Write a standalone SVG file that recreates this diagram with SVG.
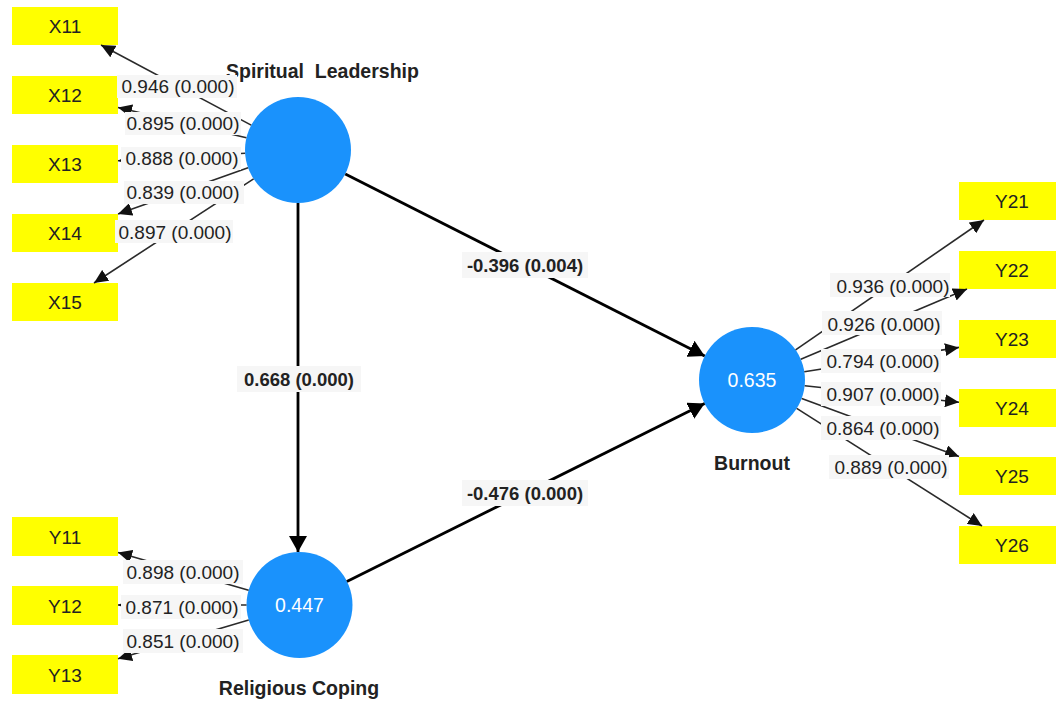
<svg xmlns="http://www.w3.org/2000/svg" width="1056" height="702" viewBox="0 0 1056 702">
<style>
text{font-family:"Liberation Sans",Arial,sans-serif;font-size:19px;fill:#222;text-anchor:middle}
.box{fill:#ffff00}
.lv{fill:#1a92fc}
.lvv{fill:#fff;font-size:19.5px}
.name{font-weight:bold;font-size:19.5px}
.ol{stroke:#2a2a2a;stroke-width:1.6;fill:none;marker-end:url(#ah)}
.sl{stroke:#000;stroke-width:2.8;fill:none;marker-end:url(#ahb)}
.lb{fill:#f6f6f6}
.pl{font-weight:bold;font-size:18.5px}
</style>
<defs>
<marker id="ah" markerUnits="userSpaceOnUse" markerWidth="15" markerHeight="13" refX="14" refY="6.5" orient="auto"><path d="M0,0 L14,6.5 L0,13 z" fill="#111"/></marker>
<marker id="ahb" markerUnits="userSpaceOnUse" markerWidth="17" markerHeight="18" refX="16" refY="9" orient="auto"><path d="M0,0 L16,9 L0,18 z" fill="#000"/></marker>
</defs>
<rect width="1056" height="702" fill="#fff"/>
<g id="X11"><rect class="box" x="12" y="7" width="106" height="38"/><text x="65" y="33">X11</text></g>
<g id="X12"><rect class="box" x="12" y="76" width="106" height="38"/><text x="65" y="102">X12</text></g>
<g id="X13"><rect class="box" x="12" y="145" width="106" height="38"/><text x="65" y="171">X13</text></g>
<g id="X14"><rect class="box" x="12" y="214" width="106" height="38"/><text x="65" y="240">X14</text></g>
<g id="X15"><rect class="box" x="12" y="283" width="106" height="38"/><text x="65" y="309">X15</text></g>
<g id="Y11"><rect class="box" x="12" y="517" width="106" height="39"/><text x="65" y="543.5">Y11</text></g>
<g id="Y12"><rect class="box" x="12" y="586" width="106" height="39"/><text x="65" y="612.5">Y12</text></g>
<g id="Y13"><rect class="box" x="12" y="655" width="106" height="39"/><text x="65" y="681.5">Y13</text></g>
<g id="Y21"><rect class="box" x="959" y="182" width="106" height="38"/><text x="1012" y="208">Y21</text></g>
<g id="Y22"><rect class="box" x="959" y="251" width="106" height="38"/><text x="1012" y="277">Y22</text></g>
<g id="Y23"><rect class="box" x="959" y="320" width="106" height="38"/><text x="1012" y="346">Y23</text></g>
<g id="Y24"><rect class="box" x="959" y="389" width="106" height="38"/><text x="1012" y="415">Y24</text></g>
<g id="Y25"><rect class="box" x="959" y="457" width="106" height="38"/><text x="1012" y="483">Y25</text></g>
<g id="Y26"><rect class="box" x="959" y="526" width="106" height="38"/><text x="1012" y="552">Y26</text></g>
<g id="SpiritualLeadership"><circle class="lv" cx="298" cy="150" r="53"/><text class="name" x="226" y="78" style="text-anchor:start;white-space:pre" xml:space="preserve">Spiritual  Leadership</text></g>
<g id="ReligiousCoping"><circle class="lv" cx="299.5" cy="605" r="53"/><text class="lvv" x="299.5" y="612">0.447</text><text class="name" x="299" y="695">Religious Coping</text></g>
<g id="Burnout"><circle class="lv" cx="752" cy="380" r="53"/><text class="lvv" x="752" y="387">0.635</text><text class="name" x="752" y="470">Burnout</text></g>
<g id="connectors">
<line class="ol" x1="251.2" y1="125.1" x2="101" y2="45"/>
<line class="ol" x1="246.4" y1="137.8" x2="118" y2="107.5"/>
<line class="ol" x1="245.1" y1="153.2" x2="118" y2="160.8"/>
<line class="ol" x1="248.1" y1="167.8" x2="118" y2="214"/>
<line class="ol" x1="253.6" y1="178.9" x2="94" y2="283"/>
<line class="ol" x1="248.6" y1="590.3" x2="118" y2="552.4"/>
<line class="ol" x1="246.5" y1="605" x2="118" y2="605"/>
<line class="ol" x1="248.7" y1="620.1" x2="118" y2="658.8"/>
<line class="ol" x1="795.6" y1="349.9" x2="984" y2="220"/>
<line class="ol" x1="800.8" y1="359.3" x2="967" y2="289"/>
<line class="ol" x1="804.3" y1="371.8" x2="959" y2="347.4"/>
<line class="ol" x1="804.7" y1="385.7" x2="959" y2="402.3"/>
<line class="ol" x1="801.7" y1="398.4" x2="959" y2="456.4"/>
<line class="ol" x1="796.7" y1="408.4" x2="982" y2="526"/>
<line class="sl" x1="298" y1="203" x2="298" y2="552"/>
<line class="sl" x1="345.3" y1="174" x2="704.7" y2="356"/>
<line class="sl" x1="346.9" y1="581.4" x2="704.6" y2="403.6"/>
<rect class="lb" x="117" y="75" width="120" height="23"/><text x="178" y="93">0.946 (0.000)</text>
<rect class="lb" x="125" y="112" width="116" height="23"/><text x="183" y="129.5">0.895 (0.000)</text>
<rect class="lb" x="121" y="147" width="120" height="23"/><text x="182" y="164.5">0.888 (0.000)</text>
<rect class="lb" x="124" y="181" width="120" height="23"/><text x="183" y="198.5">0.839 (0.000)</text>
<rect class="lb" x="115" y="220" width="118" height="23"/><text x="175" y="238.5">0.897 (0.000)</text>
<rect class="lb" x="123" y="560" width="120" height="24"/><text x="183" y="578.5">0.898 (0.000)</text>
<rect class="lb" x="121" y="595" width="120" height="24"/><text x="182" y="613.5">0.871 (0.000)</text>
<rect class="lb" x="123" y="629" width="120" height="24"/><text x="183" y="647.5">0.851 (0.000)</text>
<rect class="lb" x="830" y="273" width="120" height="24"/><text x="893" y="292.5">0.936 (0.000)</text>
<rect class="lb" x="822" y="311" width="120" height="24"/><text x="884" y="330.5">0.926 (0.000)</text>
<rect class="lb" x="821" y="349" width="120" height="24"/><text x="883" y="367.5">0.794 (0.000)</text>
<rect class="lb" x="821" y="382" width="120" height="24"/><text x="883" y="400.5">0.907 (0.000)</text>
<rect class="lb" x="821" y="416" width="120" height="24"/><text x="883" y="434.5">0.864 (0.000)</text>
<rect class="lb" x="829" y="455" width="120" height="24"/><text x="891" y="473.5">0.889 (0.000)</text>
<rect class="lb" x="462" y="252" width="126" height="26"/><text class="pl" x="525" y="272">-0.396 (0.004)</text>
<rect class="lb" x="237" y="366" width="124" height="26"/><text class="pl" x="299" y="385.5">0.668 (0.000)</text>
<rect class="lb" x="462" y="480" width="126" height="26"/><text class="pl" x="525" y="499.5">-0.476 (0.000)</text>
</g>
</svg>
